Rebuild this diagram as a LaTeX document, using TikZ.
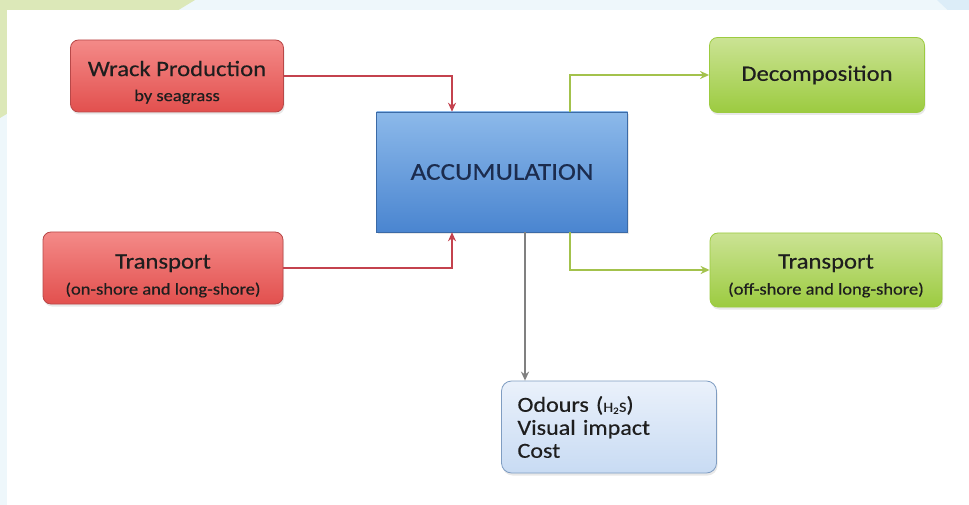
\documentclass[tikz,border=0pt]{standalone}
\usepackage{fontspec}
\setmainfont{Carlito}[FakeStretch=1.12, FakeBold=0.4]
\usetikzlibrary{positioning, arrows.meta, shadows}

\definecolor{redtop}{HTML}{F48A88}
\definecolor{redbot}{HTML}{E2504E}
\definecolor{redline}{HTML}{B84848}
\definecolor{greentop}{HTML}{CBE394}
\definecolor{greenbot}{HTML}{9CCB40}
\definecolor{greenline}{HTML}{A3C24C}
\definecolor{bluetop}{HTML}{8CB9EA}
\definecolor{bluebot}{HTML}{4A85D0}
\definecolor{paletop}{HTML}{EAF1FB}
\definecolor{palebot}{HTML}{C8DBF3}
\definecolor{paleline}{HTML}{7F9DC2}
\definecolor{arrowred}{HTML}{C4424E}
\definecolor{arrowgray}{HTML}{808080}
\definecolor{txt}{HTML}{1E1E1E}

\newcommand{\subtxt}{\fontsize{16.5}{18}\selectfont}
\newcommand{\lift}[1]{\rule{0pt}{#1}}

\tikzset{
	boxshadow/.style={drop shadow={opacity=0.18, shadow xshift=1pt, shadow yshift=-2.5pt}},
	inbox/.style={draw=redline, line width=0.8pt, rounded corners=8pt, boxshadow,
		top color=redtop, bottom color=redbot, text=txt, align=center,
		font=\fontsize{22}{24}\selectfont},
	outbox/.style={draw=greenbot, line width=0.8pt, rounded corners=8pt, boxshadow,
		top color=greentop, bottom color=greenbot, text=txt, align=center,
		font=\fontsize{22}{24}\selectfont},
	redarrow/.style={draw=arrowred, line width=2.4pt, -{Stealth[length=9pt,width=8pt]}},
	greenarrow/.style={draw=greenline, line width=2.4pt, -{Stealth[length=9pt,width=8pt]}},
	grayarrow/.style={draw=arrowgray, line width=2.6pt, -{Stealth[length=9pt,width=8pt]}},
}

\begin{document}
\begin{tikzpicture}[x=1pt, y=-1pt]
	% background
	\fill[fill={rgb,255:red,238;green,247;blue,251}] (0,0) rectangle (969,505);
	\fill[fill={rgb,255:red,220;green,232;blue,184}] (0,0) -- (195,0) -- (0,118) -- cycle;
	\fill[fill={rgb,255:red,220;green,237;blue,248}] (937,0) -- (969,0) -- (969,30) -- cycle;
	\fill[white] (7,10) rectangle (969,505);
	\useasboundingbox (0,0) rectangle (969,505);

	\node (accu) [minimum width=251pt, minimum height=120pt, draw=bluebot!80!black,
		line width=0.5pt, top color=bluetop, bottom color=bluebot, boxshadow,
		text={rgb,255:red,28;green,44;blue,78}, font=\fontsize{24.2}{28}\selectfont]
		at (502,172) {ACCUMULATION};
	\node (wrack) [inbox, minimum width=213pt, minimum height=72pt] at (177,76)
		{\lift{28pt}Wrack Production\\[1pt]{\subtxt by seagrass}};
	\node (transin) [inbox, minimum width=240pt, minimum height=72pt] at (163,268)
		{\lift{30pt}Transport\\[2pt]{\subtxt (on-shore and long-shore)}};
	\node (decomp) [outbox, minimum width=215pt, minimum height=75pt] at (817,75)
		{Decomposition};
	\node (transout) [outbox, minimum width=232pt, minimum height=74pt] at (826,270)
		{\lift{26pt}Transport\\[2pt]{\subtxt (off-shore and long-shore)}};
	\node (effects) [draw=paleline, line width=0.8pt, rounded corners=10pt, boxshadow,
		top color=paletop, bottom color=palebot, text=txt, align=left,
		minimum width=215pt, minimum height=92pt, text width=183pt,
		font=\fontsize{21.5}{23}\selectfont] at (609,427)
		{Odours ({\fontsize{14}{15}\selectfont H\textsubscript{2}S})\\Visual impact\\Cost};

	\draw[redarrow] (wrack.east) -| ([xshift=-50pt]accu.north);
	\draw[redarrow] (transin.east) -| ([xshift=-50pt]accu.south);
	\draw[greenarrow] ([xshift=68pt]accu.north) |- (decomp.west);
	\draw[greenarrow] ([xshift=68pt]accu.south) |- (transout.west);
	\draw[grayarrow] ([xshift=23pt]accu.south) -- ([xshift=23pt]accu.south |- effects.north);
\end{tikzpicture}
\end{document}
